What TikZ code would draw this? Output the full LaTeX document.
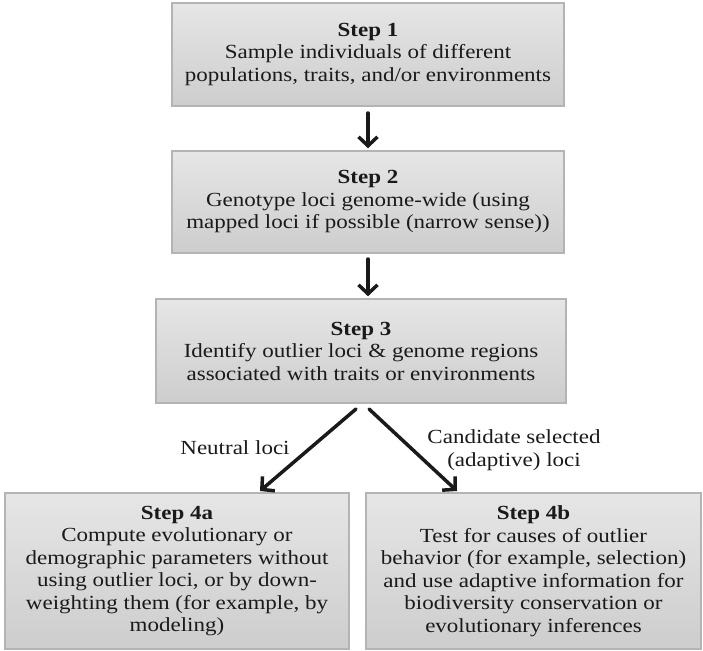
\documentclass[tikz,border=0pt]{standalone}
\usepackage{fontspec}
\setmainfont{Liberation Serif}[FakeStretch=1.15]
\usetikzlibrary{arrows.meta}
\definecolor{boxline}{HTML}{B4B4B4}
\definecolor{boxtop}{HTML}{E6E6E6}
\definecolor{boxbot}{HTML}{CDCDCD}
\definecolor{ink}{HTML}{1A1A1A}
\tikzset{
  stepbox/.style={draw=boxline, line width=1.5pt, top color=boxtop, bottom color=boxbot,
    align=center, inner sep=0pt, text=ink,
    font=\fontsize{20}{22.5}\selectfont},
  flow/.style={line width=3.5pt, draw=ink, line cap=round,
    -{Straight Barb[length=9pt,width=19pt,line width=3.5pt]}},
  lbl/.style={align=center, text=ink, font=\fontsize{20}{22.5}\selectfont}
}
\begin{document}
\begin{tikzpicture}[x=1pt,y=-1pt]
\useasboundingbox (0,0) rectangle (703,650);
\node[stepbox, minimum width=392pt, minimum height=103pt] (s1) at (368,54.5)
  {\textbf{Step 1}\\Sample individuals of different\\populations, traits, and/or environments};
\node[stepbox, minimum width=392pt, minimum height=102pt] (s2) at (368,202)
  {\textbf{Step 2}\\Genotype loci genome-wide (using\\mapped loci if possible (narrow sense))};
\node[stepbox, minimum width=410pt, minimum height=104pt] (s3) at (361,351)
  {\textbf{Step 3}\\Identify outlier loci \& genome regions\\associated with traits or environments};
\node[stepbox, minimum width=344pt, minimum height=156pt] (s4a) at (177,571)
  {\textbf{Step 4a}\\Compute evolutionary or\\demographic parameters without\\using outlier loci, or by down-\\weighting them (for example, by\\modeling)};
\node[stepbox, minimum width=335pt, minimum height=156pt] (s4b) at (533.5,571)
  {\textbf{Step 4b}\\Test for causes of outlier\\behavior (for example, selection)\\and use adaptive information for\\biodiversity conservation or\\evolutionary inferences};
\coordinate (a1s) at (368,113);
\coordinate (a2s) at (368,259);
\coordinate (a3s) at (356,409);
\coordinate (a4s) at (369,409);
\coordinate (a3e) at (260,491);
\coordinate (a4e) at (457,491);
\draw[flow] (a1s) -- ([yshift=2pt]s1.south |- s2.north);
\draw[flow] (a2s) -- ([yshift=2pt]s2.south |- s3.north);
\draw[flow] (a3s) -- (a3e);
\draw[flow] (a4s) -- (a4e);
\node[lbl] (n1) at (235,448) {Neutral loci};
\node[lbl] (n2) at (514,450) {Candidate selected\\(adaptive) loci};
\end{tikzpicture}
\end{document}
